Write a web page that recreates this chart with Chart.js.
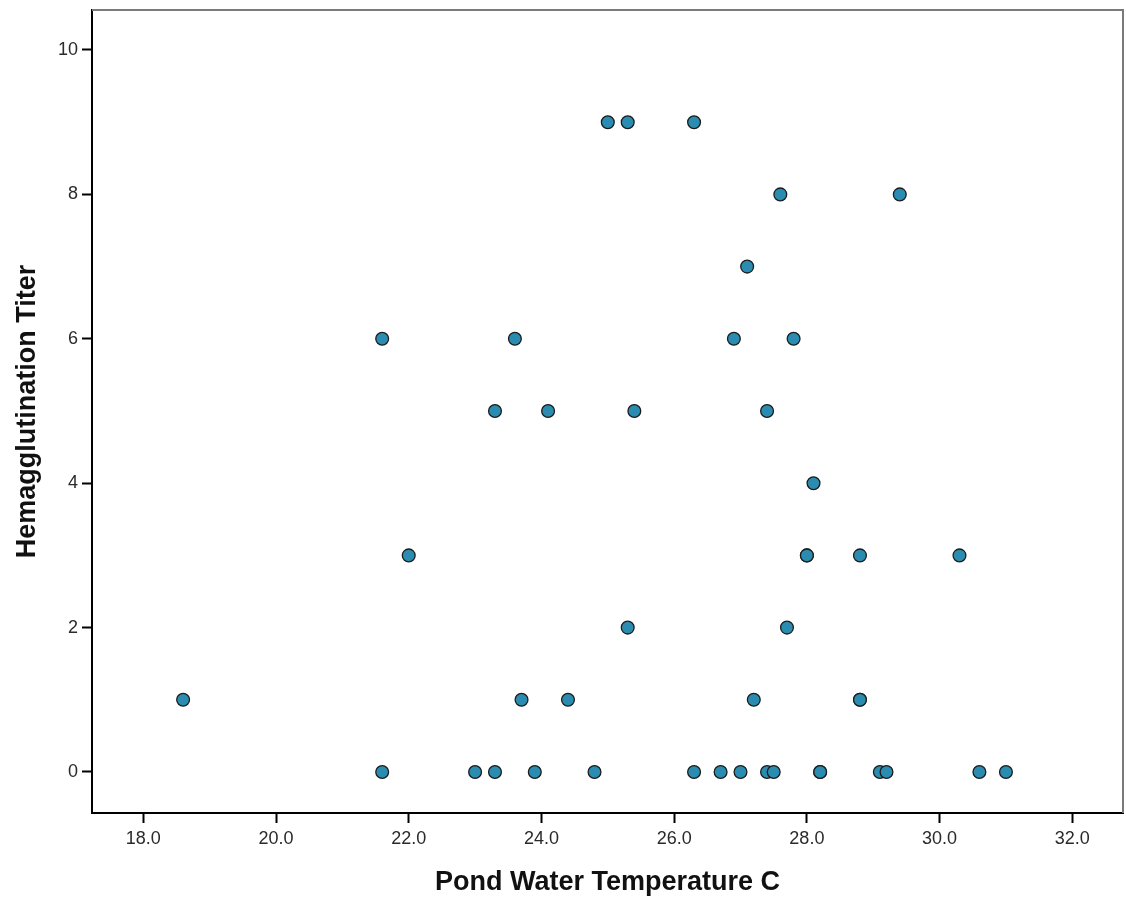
<!DOCTYPE html>
<html>
<head>
<meta charset="utf-8">
<script src="https://cdn.jsdelivr.net/npm/chart.js@4/dist/chart.umd.min.js"></script>
<style>
  html, body { margin: 0; padding: 0; background: #fff; }
  canvas { display: block; }
</style>
</head>
<body>
<canvas id="scatter" width="1126" height="901"></canvas>
<script>
// 数据：池塘水温 vs 血凝滴度
const temperature = [
  25.0, 25.3, 26.3,
  27.6, 29.4,
  27.1,
  21.6, 23.6, 26.9, 27.8,
  23.3, 24.1, 25.4, 27.4,
  28.1,
  22.0, 28.0, 28.0, 28.8, 30.3,
  25.3, 27.7,
  18.6, 23.7, 24.4, 27.2, 28.8, 28.8,
  21.6, 23.0, 23.3, 23.9, 24.8, 26.3, 26.7, 27.0, 27.4, 27.5, 28.2, 28.2, 29.1, 29.2, 30.6, 31.0
];
const titer = [
  9, 9, 9,
  8, 8,
  7,
  6, 6, 6, 6,
  5, 5, 5, 5,
  4,
  3, 3, 3, 3, 3,
  2, 2,
  1, 1, 1, 1, 1, 1,
  0, 0, 0, 0, 0, 0, 0, 0, 0, 0, 0, 0, 0, 0, 0, 0
];

// 坐标轴刻度
const xTicks = [18, 20, 22, 24, 26, 28, 30, 32];
const yTicks = [0, 2, 4, 6, 8, 10];

const points = temperature.map((t, i) => ({ x: t, y: titer[i] }));

// 上边和右边的灰色边框
const framePlugin = {
  id: 'frame',
  afterDraw(chart) {
    const { ctx, chartArea } = chart;
    ctx.save();
    ctx.strokeStyle = '#7a7a7a';
    ctx.lineWidth = 2;
    ctx.beginPath();
    ctx.moveTo(chartArea.left, chartArea.top);
    ctx.lineTo(chartArea.right, chartArea.top);
    ctx.lineTo(chartArea.right, chartArea.bottom);
    ctx.stroke();
    ctx.restore();
  }
};

const tickFont = { family: '"Liberation Sans", Arial, sans-serif', size: 18 };
const titleFont = { family: '"Liberation Sans", Arial, sans-serif', size: 27, weight: 'bold' };

new Chart(document.getElementById('scatter'), {
  type: 'scatter',
  data: {
    datasets: [{
      data: points,
      backgroundColor: '#2a8cb0',
      borderColor: '#1c1c1c',
      borderWidth: 1.3,
      pointRadius: 6.4,
      pointHoverRadius: 6.4,
      clip: false
    }]
  },
  options: {
    responsive: false,
    animation: false,
    layout: { autoPadding: false, padding: { top: 10, right: 3, left: 0, bottom: 0 } },
    plugins: {
      legend: { display: false },
      tooltip: { enabled: false }
    },
    scales: {
      x: {
        type: 'linear',
        min: 17.227,
        max: 32.764,
        afterBuildTicks(axis) { axis.ticks = xTicks.map(v => ({ value: v })); },
        afterFit(axis) {
          axis.height = 88;
          axis.paddingLeft = 0;
          axis.paddingRight = 0;
        },
        border: { color: '#000', width: 2 },
        grid: { drawOnChartArea: false, drawTicks: true, tickLength: 10, tickColor: '#000', tickWidth: 2 },
        ticks: {
          color: '#2a2a2a',
          font: tickFont,
          padding: 5,
          maxRotation: 0,
          callback: v => v.toFixed(1)
        },
        title: {
          display: true,
          text: 'Pond Water Temperature C',
          color: '#111',
          font: titleFont,
          padding: { top: 0, bottom: 2 }
        }
      },
      y: {
        type: 'linear',
        min: -0.568,
        max: 10.554,
        afterBuildTicks(axis) { axis.ticks = yTicks.map(v => ({ value: v })); },
        afterFit(axis) {
          axis.width = 92;
          axis.paddingTop = 0;
          axis.paddingBottom = 0;
        },
        border: { color: '#000', width: 2 },
        grid: { drawOnChartArea: false, drawTicks: true, tickLength: 10, tickColor: '#000', tickWidth: 2 },
        ticks: {
          color: '#2a2a2a',
          font: tickFont,
          padding: 4,
          callback: v => String(v)
        },
        title: {
          display: true,
          text: 'Hemagglutination Titer',
          color: '#111',
          font: titleFont,
          padding: { top: 11, bottom: 0 }
        }
      }
    }
  },
  plugins: [framePlugin]
});
</script>
</body>
</html>
